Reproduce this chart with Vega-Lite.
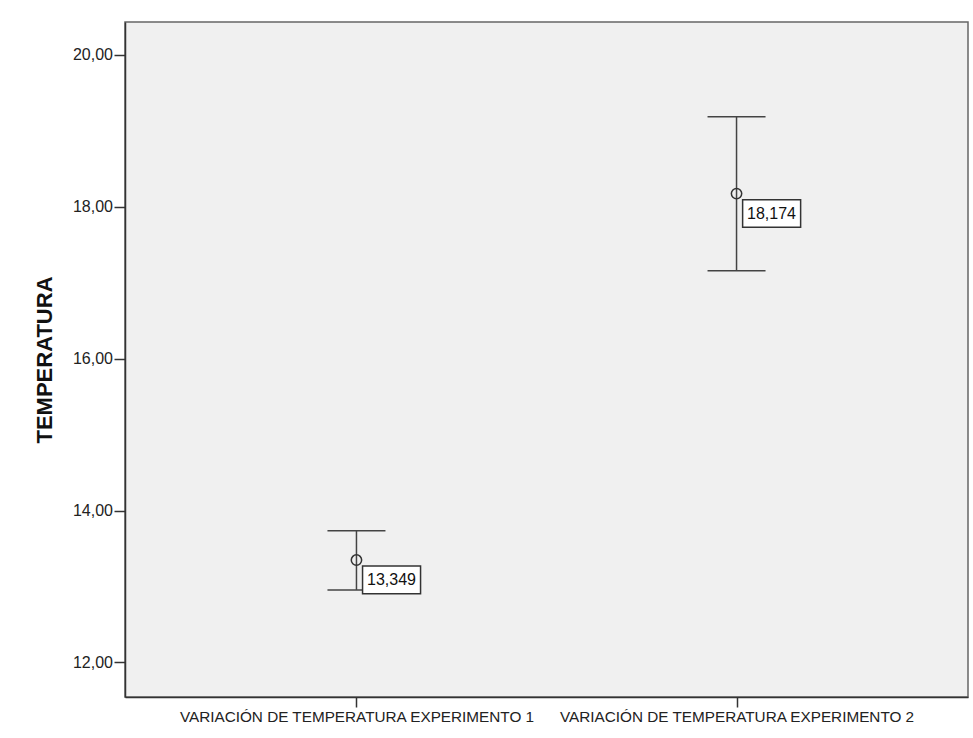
{
  "$schema": "https://vega.github.io/schema/vega-lite/v6.json",
  "width": 843,
  "height": 675,
  "autosize": {"type": "none"},
  "padding": {"left": 125, "top": 22, "right": 5, "bottom": 41},
  "background": "white",
  "config": {
    "locale": {"number": {"decimal": ",", "thousands": ".", "grouping": [3], "currency": ["", " €"]}},
    "view": {"fill": "#f0f0f0", "stroke": "#666", "strokeWidth": 1.5},
    "font": "Liberation Sans"
  },
  "data": {
    "values": [
      {"cond": "VARIACIÓN DE TEMPERATURA EXPERIMENTO 1", "mean": 13.349, "lower": 12.955, "upper": 13.735},
      {"cond": "VARIACIÓN DE TEMPERATURA EXPERIMENTO 2", "mean": 18.174, "lower": 17.157, "upper": 19.185}
    ]
  },
  "encoding": {
    "x": {
      "field": "cond",
      "type": "nominal",
      "sort": null,
      "scale": {"type": "point", "padding": 0.609},
      "axis": {
        "title": null,
        "labelAngle": 0,
        "labelFontSize": 15.3,
        "labelColor": "#222",
        "labelLimit": 0,
        "labelPadding": 2,
        "tickColor": "#333",
        "tickSize": 10,
        "tickWidth": 1.5,
        "domainColor": "#333",
        "domainWidth": 1.5
      }
    }
  },
  "layer": [
    {
      "mark": {"type": "rule", "stroke": "#444", "strokeWidth": 1.5},
      "encoding": {
        "y": {
          "field": "lower",
          "type": "quantitative",
          "scale": {"domain": [11.545, 20.434], "zero": false, "nice": false},
          "axis": {
            "values": [12, 14, 16, 18, 20],
            "format": ".2f",
            "grid": false,
            "labelFontSize": 16,
            "labelColor": "#222",
            "labelPadding": 1.5,
            "tickSize": 11,
            "tickColor": "#333",
            "tickWidth": 1.5,
            "domainColor": "#333",
            "domainWidth": 1.5,
            "title": "TEMPERATURA",
            "titleFontSize": 22,
            "titleFontWeight": "bold",
            "titleColor": "#111",
            "titlePadding": 16
          }
        },
        "y2": {"field": "upper"}
      }
    },
    {
      "mark": {"type": "tick", "size": 58, "thickness": 1.5, "color": "#444", "opacity": 1},
      "encoding": {"y": {"field": "lower", "type": "quantitative"}}
    },
    {
      "mark": {"type": "tick", "size": 58, "thickness": 1.5, "color": "#444", "opacity": 1},
      "encoding": {"y": {"field": "upper", "type": "quantitative"}}
    },
    {
      "mark": {"type": "point", "shape": "circle", "size": 107, "filled": false, "stroke": "#333", "strokeWidth": 1.5, "opacity": 1},
      "encoding": {"y": {"field": "mean", "type": "quantitative"}}
    },
    {
      "mark": {"type": "point", "shape": "M0.21,0.21H2.21V1.16H0.21Z", "size": 3364, "filled": true, "fill": "white", "stroke": "#333", "strokeWidth": 1.5, "opacity": 1},
      "encoding": {"y": {"field": "mean", "type": "quantitative"}}
    },
    {
      "mark": {"type": "text", "dx": 35, "dy": 20, "align": "center", "baseline": "middle", "fontSize": 16, "color": "#111"},
      "encoding": {
        "y": {"field": "mean", "type": "quantitative"},
        "text": {"field": "mean", "type": "quantitative", "format": ".3f"}
      }
    }
  ]
}
